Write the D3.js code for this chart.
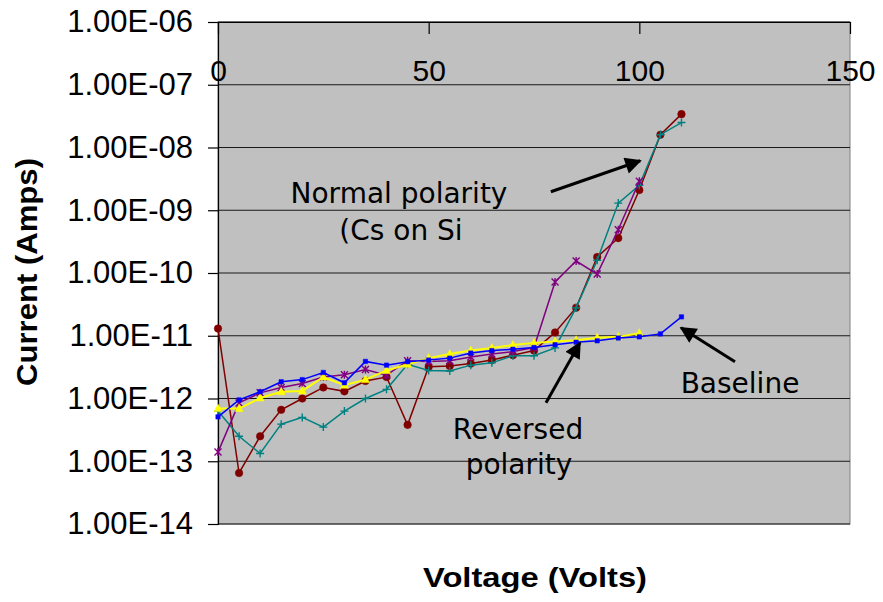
<!DOCTYPE html>
<html>
<head>
<meta charset="utf-8">
<script src="https://cdn.jsdelivr.net/npm/d3@7"></script>
<style>
  body { margin: 0; background: #fff; }
  svg { display: block; }
</style>
</head>
<body>
<svg id="chart" width="883" height="602"></svg>
<script>

// voltage steps (V)
var volts = [0, 5, 10, 15, 20, 25, 30, 35, 40, 45, 50, 55, 60, 65, 70, 75, 80, 85, 90, 95, 100, 105, 110];

// current (A)
var normal1 = [1.3e-11, 6.5e-14, 2.5e-13, 6.6e-13, 1.0e-12, 1.5e-12, 1.3e-12, 1.9e-12, 2.2e-12, 3.8e-13,
  3.2e-12, 3.3e-12, 3.6e-12, 4.1e-12, 4.9e-12, 5.8e-12, 1.13e-11, 2.8e-11, 1.8e-10, 3.6e-10,
  2.1e-9, 1.6e-8, 3.4e-8];
var normal2 = [6.3e-13, 2.5e-13, 1.33e-13, 3.9e-13, 5.0e-13, 3.5e-13, 6.3e-13, 1.0e-12, 1.4e-12, 3.5e-12,
  2.8e-12, 2.75e-12, 3.4e-12, 3.7e-12, 4.8e-12, 4.8e-12, 6.4e-12, 2.8e-11, 1.6e-10, 1.3e-9,
  2.5e-9, 1.6e-8, 2.5e-8];
var normal3 = [1.4e-13, 8.5e-13, 1.23e-12, 1.5e-12, 1.74e-12, 2.2e-12, 2.4e-12, 2.9e-12, 2.35e-12, 4.0e-12,
  3.9e-12, 4.0e-12, 4.6e-12, 5.1e-12, 5.6e-12, 6.5e-12, 7.2e-11, 1.55e-10, 9.6e-11, 4.9e-10,
  2.9e-9];
var reversed = [6.9e-13, 6.9e-13, 1.02e-12, 1.28e-12, 1.32e-12, 2.2e-12, 1.63e-12, 2.0e-12, 2.8e-12, 3.5e-12,
  4.4e-12, 5.1e-12, 5.8e-12, 6.4e-12, 7.1e-12, 7.7e-12, 8.1e-12, 8.5e-12, 9.3e-12, 9.6e-12,
  1.1e-11];
var baseline = [5.1e-13, 9.5e-13, 1.28e-12, 1.85e-12, 2.0e-12, 2.6e-12, 1.78e-12, 3.9e-12, 3.4e-12, 3.85e-12,
  4.1e-12, 4.4e-12, 5.3e-12, 5.8e-12, 6.1e-12, 6.5e-12, 7.2e-12, 7.9e-12, 8.3e-12, 9.2e-12,
  9.6e-12, 1.07e-11, 2.0e-11];

var xTicks = [0, 50, 100, 150];
var yTicks = [1e-6, 1e-7, 1e-8, 1e-9, 1e-10, 1e-11, 1e-12, 1e-13, 1e-14];

var svg = d3.select('#chart');
var plot = {left: 218, right: 850, top: 22, bottom: 524};

var x = d3.scaleLinear().domain([0, 150]).range([plot.left, plot.right]);
var y = d3.scaleLog().domain([1e-14, 1e-6]).range([plot.bottom, plot.top]);

function sciLabel(d) {
  var e = Math.round(Math.log10(d));
  return '1.00E' + (e < 0 ? '-' : '+') + String(Math.abs(e)).padStart(2, '0');
}

// plot background
svg.append('rect')
    .attr('x', plot.left).attr('y', plot.top)
    .attr('width', plot.right - plot.left).attr('height', plot.bottom - plot.top)
    .attr('fill', '#c0c0c0')
    .attr('stroke', '#808080')
    .attr('stroke-width', 1);

// gridlines
svg.append('g')
  .selectAll('line')
  .data(yTicks)
  .enter().append('line')
    .attr('x1', plot.left).attr('x2', plot.right)
    .attr('y1', function(d) { return y(d); })
    .attr('y2', function(d) { return y(d); })
    .attr('stroke', '#1a1a1a')
    .attr('stroke-width', 1.2);

// y axis
var yAxis = svg.append('g')
    .attr('transform', 'translate(' + plot.left + ',0)')
    .call(d3.axisLeft(y).tickValues(yTicks).tickFormat(sciLabel).tickSize(10).tickPadding(15));
yAxis.selectAll('text')
    .attr('font-family', '"Liberation Sans", Arial, sans-serif')
    .attr('font-size', 31)
    .attr('fill', '#000');
yAxis.selectAll('line, path').attr('stroke', '#000').attr('stroke-width', 1.2);

// x axis (drawn along the top edge, ticks pointing into the plot)
var xAxis = svg.append('g')
    .attr('transform', 'translate(0,' + plot.top + ')')
    .call(d3.axisBottom(x).tickValues(xTicks).tickSize(12).tickPadding(26).tickSizeOuter(0));
xAxis.selectAll('text')
    .attr('font-family', '"Liberation Sans", Arial, sans-serif')
    .attr('font-size', 30)
    .attr('fill', '#000');
xAxis.selectAll('line, path').attr('stroke', '#000').attr('stroke-width', 1.2);

// axis titles
svg.append('text')
    .attr('x', 535).attr('y', 587)
    .attr('text-anchor', 'middle')
    .attr('font-family', '"Liberation Sans", Arial, sans-serif')
    .attr('font-weight', 'bold')
    .attr('font-size', 27)
    .attr('textLength', 224)
    .attr('lengthAdjust', 'spacingAndGlyphs')
    .text('Voltage (Volts)');

svg.append('text')
    .attr('transform', 'translate(37,272) rotate(-90)')
    .attr('text-anchor', 'middle')
    .attr('font-family', '"Liberation Sans", Arial, sans-serif')
    .attr('font-weight', 'bold')
    .attr('font-size', 30)
    .attr('textLength', 228)
    .attr('lengthAdjust', 'spacingAndGlyphs')
    .text('Current (Amps)');

// series
var series = [
  {name: 'normal1', values: normal1, color: '#800000', width: 1.5, marker: 'circle'},
  {name: 'normal2', values: normal2, color: '#008080', width: 1.5, marker: 'plus'},
  {name: 'normal3', values: normal3, color: '#800080', width: 1.5, marker: 'star'},
  {name: 'reversed', values: reversed, color: '#ffff00', width: 2, marker: 'triangle'},
  {name: 'baseline', values: baseline, color: '#0000ff', width: 1.5, marker: 'square'}
];

var line = d3.line()
    .x(function(d) { return x(d.v); })
    .y(function(d) { return y(d.i); });

function markerPath(type) {
  if (type == 'plus') return 'M-4,0H4M0,-4V4';
  if (type == 'star') return 'M-3.5,-3.5L3.5,3.5M-3.5,3.5L3.5,-3.5M0,-4V4';
  if (type == 'triangle') return 'M0,-4.5L4,3L-4,3Z';
  if (type == 'square') return 'M-2.2,-2.2H2.2V2.2H-2.2Z';
  return d3.symbol().type(d3.symbolCircle).size(45)();
}

series.forEach(function(s) {
  var pts = s.values.map(function(c, k) { return {v: volts[k], i: c}; });
  var g = svg.append('g').attr('class', s.name);
  g.append('path')
      .datum(pts)
      .attr('d', line)
      .attr('fill', 'none')
      .attr('stroke', s.color)
      .attr('stroke-width', s.width);
  var filled = (s.marker == 'circle' || s.marker == 'triangle' || s.marker == 'square');
  g.selectAll('.mk')
    .data(pts)
    .enter().append('path')
      .attr('class', 'mk')
      .attr('transform', function(d) { return 'translate(' + x(d.v) + ',' + y(d.i) + ')'; })
      .attr('d', markerPath(s.marker))
      .attr('fill', filled ? s.color : 'none')
      .attr('stroke', s.color)
      .attr('stroke-width', filled ? 0.5 : 1.4);
});

// annotations
svg.append('defs').append('marker')
    .attr('id', 'arrow')
    .attr('viewBox', '0 0 10 10')
    .attr('refX', 9).attr('refY', 5)
    .attr('markerWidth', 6).attr('markerHeight', 5.5)
    .attr('orient', 'auto')
  .append('path')
    .attr('d', 'M0,0L10,5L0,10Z')
    .attr('fill', '#000');

var arrows = [
  {from: [79.0, 1.97e-9], to: [100.2, 6.15e-9]},
  {from: [77.85, 8.55e-13], to: [85.9, 7.7e-12]},
  {from: [122.7, 3.86e-12], to: [109.9, 1.34e-11]}
];

svg.append('g')
  .selectAll('line')
  .data(arrows)
  .enter().append('line')
    .attr('x1', function(d) { return x(d.from[0]); })
    .attr('y1', function(d) { return y(d.from[1]); })
    .attr('x2', function(d) { return x(d.to[0]); })
    .attr('y2', function(d) { return y(d.to[1]); })
    .attr('stroke', '#000')
    .attr('stroke-width', 3)
    .attr('marker-end', 'url(#arrow)');

var notes = [
  {text: 'Normal polarity', x: 399, y: 203},
  {text: '(Cs on Si', x: 401, y: 240},
  {text: 'Reversed', x: 518, y: 439},
  {text: 'polarity', x: 519, y: 474},
  {text: 'Baseline', x: 740, y: 393}
];

svg.append('g')
  .selectAll('text')
  .data(notes)
  .enter().append('text')
    .attr('x', function(d) { return d.x; })
    .attr('y', function(d) { return d.y; })
    .attr('text-anchor', 'middle')
    .attr('font-family', '"DejaVu Sans", Verdana, sans-serif')
    .attr('font-size', 28)
    .attr('fill', '#000')
    .text(function(d) { return d.text; });

</script>
</body>
</html>
